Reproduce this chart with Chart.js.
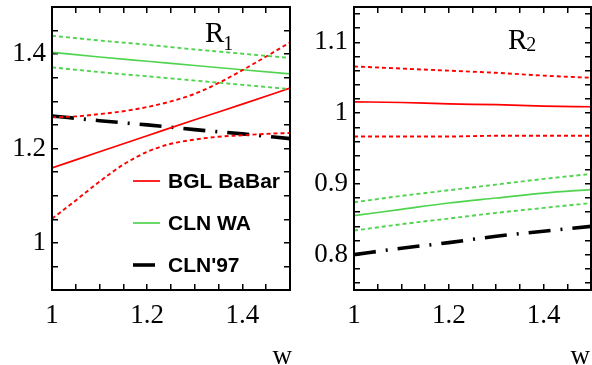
<!DOCTYPE html>
<html><head><meta charset="utf-8">
<script src="https://cdn.jsdelivr.net/npm/chart.js@4/dist/chart.umd.min.js"></script>
<style>
html,body{margin:0;padding:0;background:#fff;width:592px;height:365px;overflow:hidden}
canvas{position:absolute;top:0}
#c1{left:0}
#c2{left:292px}
</style></head><body>
<canvas id="c1" width="292" height="365"></canvas>
<canvas id="c2" width="300" height="365"></canvas>
<script>
// ---- data ----
const seriesNames = ['BGL BaBar', 'CLN WA', "CLN'97"];
const wFine = [1.0, 1.05, 1.1, 1.15, 1.2, 1.25, 1.3, 1.35, 1.4, 1.45, 1.5];
const wGrid = [1.0, 1.1, 1.2, 1.3, 1.4, 1.5];

// R1 panel
const r1BglCentral = [1.159, 1.193, 1.227, 1.261, 1.294, 1.328];
const r1BglUpper   = [1.266, 1.268, 1.273, 1.279, 1.288, 1.300, 1.316, 1.339, 1.366, 1.395, 1.425];
const r1BglLower   = [1.051, 1.090, 1.130, 1.166, 1.193, 1.210, 1.219, 1.225, 1.228, 1.231, 1.233];
const r1ClnCentral = [1.404, 1.394, 1.385, 1.376, 1.367, 1.358];
const r1ClnUpper   = [1.439, 1.429, 1.420, 1.410, 1.401, 1.392];
const r1ClnLower   = [1.372, 1.362, 1.353, 1.344, 1.335, 1.326];
const r1Cln97      = [1.269, 1.259, 1.250, 1.240, 1.231, 1.221];

// R2 panel
const r2BglCentral = [1.016, 1.015, 1.013, 1.012, 1.010, 1.009];
const r2BglUpper   = [1.066, 1.063, 1.060, 1.057, 1.053, 1.050];
const r2BglLower   = [0.967, 0.967, 0.967, 0.968, 0.968, 0.968];
const r2ClnCentral = [0.855, 0.864, 0.873, 0.880, 0.887, 0.892];
const r2ClnUpper   = [0.874, 0.883, 0.891, 0.899, 0.907, 0.914];
const r2ClnLower   = [0.834, 0.843, 0.851, 0.859, 0.866, 0.873];
const r2Cln97      = [0.800, 0.809, 0.817, 0.826, 0.833, 0.840];

// axis ranges and ticks
const xRange  = [1, 1.5];
const r1Range = [0.9, 1.5];
const r2Range = [0.75, 1.15];
const xTickValues  = [1, 1.2, 1.4];
const r1TickValues = [1, 1.2, 1.4];
const r2TickValues = [0.8, 0.9, 1, 1.1];
const xAllTicks  = [1, 1.05, 1.1, 1.15, 1.2, 1.25, 1.3, 1.35, 1.4, 1.45, 1.5];
const r1AllTicks = [0.9, 0.95, 1, 1.05, 1.1, 1.15, 1.2, 1.25, 1.3, 1.35, 1.4, 1.45, 1.5];
const r2AllTicks = [0.76, 0.78, 0.8, 0.82, 0.84, 0.86, 0.88, 0.9, 0.92, 0.94, 0.96, 0.98,
                    1, 1.02, 1.04, 1.06, 1.08, 1.1, 1.12, 1.14];

// ---- styles ----
const RED = '#ff0000';
const GREEN = 'rgb(80,212,80)';
const SERIF = "'Liberation Serif','Times New Roman',serif";
const SANS = "'Liberation Sans',Arial,sans-serif";
const TICK_LEN = -6;

function pts(xs, ys){ return xs.map((x,i)=>({x:x, y:ys[i]})); }
function ds(xs, ys, color, kind){
  const d = {data: pts(xs, ys), borderColor: color, pointRadius: 0, fill: false,
    cubicInterpolationMode: 'monotone', borderWidth: 1.7, xAxisID: 'x', yAxisID: 'y'};
  if (kind === 'dash') { d.borderDash = [4,3]; d.borderWidth = 1.9; }
  if (kind === 'dashdot') { d.borderDash = [22,10,2,10]; d.borderWidth = 3.6; }
  return d;
}
const isIn = (v, arr) => arr.some(a => Math.abs(a - v) < 1e-6);
const gridOpts = () => ({display: true, drawOnChartArea: false, drawTicks: true,
  tickLength: TICK_LEN, color: '#000', tickColor: '#000', tickWidth: 1.5, lineWidth: 1.5});

function makeFramePlugin(o){
  return {
    id: 'frame' + o.sub,
    afterDraw(chart){
      const ctx = chart.ctx, ca = chart.chartArea;
      ctx.save();
      ctx.strokeStyle = '#000';
      ctx.fillStyle = '#000';
      ctx.setLineDash([]);
      ctx.lineWidth = 2;
      ctx.strokeRect(ca.left, ca.top, ca.right - ca.left, ca.bottom - ca.top);
      ctx.textBaseline = 'alphabetic';
      ctx.textAlign = 'left';
      ctx.font = '29px ' + SERIF;
      ctx.fillText('R', ca.left + o.labelDx, ca.top + o.labelDy);
      const rw = ctx.measureText('R').width;
      ctx.font = '20px ' + SERIF;
      ctx.fillText(o.sub, ca.left + o.labelDx + rw - 1, ca.top + o.labelDy + o.subDy);
      ctx.font = '27px ' + SERIF;
      ctx.textAlign = 'right';
      ctx.fillText('w', ca.right + o.wDx, 364);
      if (o.legend) {
        const items = [
          {c: RED, w: 1.7, len: 27},
          {c: GREEN, w: 1.7, len: 27},
          {c: '#000', w: 3.6, len: 22}
        ];
        const lx = ca.left + 81, ly = [181, 223, 265];
        ctx.font = 'bold 21px ' + SANS;
        ctx.textAlign = 'left';
        ctx.textBaseline = 'middle';
        items.forEach((it, i) => {
          ctx.strokeStyle = it.c; ctx.lineWidth = it.w;
          ctx.beginPath(); ctx.moveTo(lx, ly[i]); ctx.lineTo(lx + it.len, ly[i]); ctx.stroke();
          ctx.fillStyle = '#000';
          ctx.fillText(seriesNames[i], lx + 35, ly[i] + 1);
        });
      }
      ctx.restore();
    }
  };
}

function makeChart(id, datasets, yr, yTicks, yAll, yWidth, padRight, cfg){
  return new Chart(document.getElementById(id), {
    type: 'line',
    data: {datasets: datasets},
    plugins: [makeFramePlugin(cfg)],
    options: {
      responsive: false, animation: false, devicePixelRatio: 1,
      layout: {padding: {top: 7, right: padRight, left: 0, bottom: 0}},
      plugins: {legend: {display: false}, tooltip: {enabled: false}},
      scales: {
        x: {type: 'linear', position: 'bottom', min: xRange[0], max: xRange[1],
          grid: gridOpts(), border: {display: false},
          afterBuildTicks: s => { s.ticks = xAllTicks.map(v => ({value: v})); },
          afterFit: s => { s.height = 75; s.paddingLeft = 0; s.paddingRight = 0; },
          ticks: {padding: 16, color: '#000', maxRotation: 0, minRotation: 0, autoSkip: false,
            font: {family: SERIF, size: 27},
            callback: v => isIn(v, xTickValues) ? String(v) : ''}},
        x2: {type: 'linear', position: 'top', min: xRange[0], max: xRange[1],
          grid: gridOpts(), border: {display: false},
          afterBuildTicks: s => { s.ticks = xAllTicks.map(v => ({value: v})); },
          afterFit: s => { s.height = 0; s.paddingLeft = 0; s.paddingRight = 0; },
          ticks: {display: false}},
        y: {type: 'linear', position: 'left', min: yr[0], max: yr[1],
          grid: gridOpts(), border: {display: false},
          afterBuildTicks: s => { s.ticks = yAll.map(v => ({value: v})); },
          afterFit: s => { s.width = yWidth; s.paddingTop = 0; s.paddingBottom = 0; },
          ticks: {padding: 12, color: '#000', autoSkip: false,
            font: {family: SERIF, size: 27},
            callback: v => isIn(v, yTicks) ? String(v) : ''}},
        y2: {type: 'linear', position: 'right', min: yr[0], max: yr[1],
          grid: gridOpts(), border: {display: false},
          afterBuildTicks: s => { s.ticks = yAll.map(v => ({value: v})); },
          afterFit: s => { s.width = 0; s.paddingTop = 0; s.paddingBottom = 0; },
          ticks: {display: false}}
      }
    }
  });
}

makeChart('c1', [
  ds(wFine, r1BglUpper, RED, 'dash'),
  ds(wFine, r1BglLower, RED, 'dash'),
  ds(wGrid, r1ClnUpper, GREEN, 'dash'),
  ds(wGrid, r1ClnLower, GREEN, 'dash'),
  ds(wGrid, r1ClnCentral, GREEN, 'solid'),
  ds(wGrid, r1BglCentral, RED, 'solid'),
  ds(wGrid, r1Cln97, '#000', 'dashdot')
], r1Range, r1TickValues, r1AllTicks, 52, 2,
 {sub: '1', labelDx: 153, labelDy: 35, subDy: 8, wDx: 2, legend: true});

makeChart('c2', [
  ds(wGrid, r2BglUpper, RED, 'dash'),
  ds(wGrid, r2BglLower, RED, 'dash'),
  ds(wGrid, r2BglCentral, RED, 'solid'),
  ds(wGrid, r2ClnUpper, GREEN, 'dash'),
  ds(wGrid, r2ClnLower, GREEN, 'dash'),
  ds(wGrid, r2ClnCentral, GREEN, 'solid'),
  ds(wGrid, r2Cln97, '#000', 'dashdot')
], r2Range, r2TickValues, r2AllTicks, 62, 1,
 {sub: '2', labelDx: 154, labelDy: 42, subDy: 2, wDx: -1, legend: false});
</script>
</body></html>
